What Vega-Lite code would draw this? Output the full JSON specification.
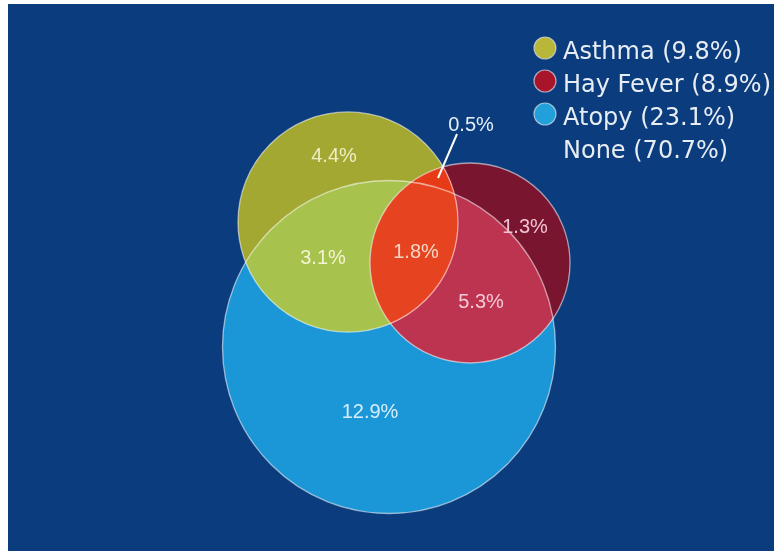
{
  "$schema": "https://vega.github.io/schema/vega-lite/v6.json",
  "width": 774,
  "height": 551,
  "autosize": {"type": "fit", "contains": "padding"},
  "padding": {"left": 8, "top": 4, "right": 0, "bottom": 0},
  "background": "#ffffff",
  "config": {"view": {"fill": "#0b3c7d", "stroke": null}},
  "datasets": {
    "circles": [
      {"name": "Atopy", "cx": 389, "cy": 347, "r": 166.5},
      {"name": "Asthma", "cx": 348, "cy": 222, "r": 110},
      {"name": "Hay Fever", "cx": 470, "cy": 263, "r": 100}
    ],
    "labels": [
      {"text": "4.4%", "x": 334, "y": 156, "region": "asthma"},
      {"text": "3.1%", "x": 323, "y": 258, "region": "asthma_atopy"},
      {"text": "1.8%", "x": 416, "y": 252, "region": "all"},
      {"text": "1.3%", "x": 525, "y": 227, "region": "hay"},
      {"text": "5.3%", "x": 481, "y": 302, "region": "hay_atopy"},
      {"text": "12.9%", "x": 370, "y": 412, "region": "atopy"},
      {"text": "0.5%", "x": 471, "y": 125, "region": "asthma_hay"}
    ],
    "leader": [{"x": 457, "y": 134, "x2": 438, "y2": 178}],
    "legend": [
      {"name": "Asthma", "label": "Asthma (9.8%)", "px": 545, "py": 48, "tx": 563, "ty": 59, "symbol": true},
      {"name": "Hay Fever", "label": "Hay Fever (8.9%)", "px": 545, "py": 81, "tx": 563, "ty": 92, "symbol": true},
      {"name": "Atopy", "label": "Atopy (23.1%)", "px": 545, "py": 114, "tx": 563, "ty": 125, "symbol": true},
      {"name": "None", "label": "None (70.7%)", "px": 545, "py": 147, "tx": 563, "ty": 158, "symbol": false}
    ]
  },
  "layer": [
    {
      "data": {"name": "circles"},
      "transform": [{"filter": "datum.name === 'Atopy'"}],
      "mark": {"type": "point", "shape": "circle", "filled": true, "color": "#1b96d6", "opacity": 1, "strokeWidth": 0},
      "encoding": {
        "x": {"field": "cx", "type": "quantitative", "scale": {"domain": [8, 774], "nice": false, "zero": false}, "axis": null},
        "y": {"field": "cy", "type": "quantitative", "scale": {"domain": [4, 551], "nice": false, "zero": false, "reverse": true}, "axis": null},
        "size": {"field": "r", "type": "quantitative", "scale": {"type": "pow", "exponent": 2, "domain": [0, 200], "range": [0, 160000], "nice": false}, "legend": null}
      }
    },
    {
      "data": {"name": "circles"},
      "transform": [{"filter": "datum.name === 'Asthma'"}],
      "mark": {"type": "point", "shape": "circle", "filled": true, "color": "#fed612", "opacity": 0.7, "strokeWidth": 0},
      "encoding": {
        "x": {"field": "cx", "type": "quantitative"},
        "y": {"field": "cy", "type": "quantitative"},
        "size": {"field": "r", "type": "quantitative", "legend": null}
      }
    },
    {
      "data": {"name": "circles"},
      "transform": [{"filter": "datum.name === 'Hay Fever'"}],
      "mark": {"type": "point", "shape": "circle", "filled": true, "color": "#0c0007", "opacity": 0.65, "strokeWidth": 0},
      "encoding": {
        "x": {"field": "cx", "type": "quantitative"},
        "y": {"field": "cy", "type": "quantitative"},
        "size": {"field": "r", "type": "quantitative", "legend": null}
      }
    },
    {
      "data": {"name": "circles"},
      "transform": [{"filter": "datum.name === 'Hay Fever'"}],
      "mark": {"type": "point", "shape": "circle", "filled": true, "color": "#e80000", "opacity": 1, "strokeWidth": 0, "blend": "color-dodge"},
      "encoding": {
        "x": {"field": "cx", "type": "quantitative"},
        "y": {"field": "cy", "type": "quantitative"},
        "size": {"field": "r", "type": "quantitative", "legend": null}
      }
    },
    {
      "data": {"name": "circles"},
      "transform": [{"filter": "datum.name === 'Asthma'"}],
      "mark": {"type": "point", "shape": "circle", "filled": true, "color": "#e6ffff", "opacity": 1, "strokeWidth": 0, "blend": "multiply"},
      "encoding": {
        "x": {"field": "cx", "type": "quantitative"},
        "y": {"field": "cy", "type": "quantitative"},
        "size": {"field": "r", "type": "quantitative", "legend": null}
      }
    },
    {
      "data": {"name": "circles"},
      "mark": {"type": "point", "shape": "circle", "filled": false, "color": "#ffffff", "opacity": 0.55, "strokeWidth": 1.3},
      "encoding": {
        "x": {"field": "cx", "type": "quantitative"},
        "y": {"field": "cy", "type": "quantitative"},
        "size": {"field": "r", "type": "quantitative", "legend": null}
      }
    },
    {
      "data": {"name": "leader"},
      "mark": {"type": "rule", "color": "#ffffff", "strokeWidth": 2},
      "encoding": {
        "x": {"field": "x", "type": "quantitative"},
        "y": {"field": "y", "type": "quantitative"},
        "x2": {"field": "x2"},
        "y2": {"field": "y2"}
      }
    },
    {
      "data": {"name": "labels"},
      "mark": {"type": "text", "font": "Liberation Sans", "fontSize": 20, "align": "center", "baseline": "middle"},
      "encoding": {
        "x": {"field": "x", "type": "quantitative"},
        "y": {"field": "y", "type": "quantitative"},
        "text": {"field": "text"},
        "color": {
          "field": "region", "type": "nominal", "legend": null,
          "scale": {
            "domain": ["asthma", "asthma_atopy", "all", "hay", "hay_atopy", "atopy", "asthma_hay"],
            "range": ["#eeeec4", "#f4f4d4", "#f8d6c4", "#f2c4d2", "#f6c8d8", "#d6eefc", "#e6eef8"]
          }
        }
      }
    },
    {
      "data": {"name": "legend"},
      "transform": [{"filter": "datum.symbol"}],
      "mark": {"type": "point", "shape": "circle", "filled": true, "size": 484, "opacity": 1, "stroke": "#d8dde6", "strokeWidth": 1.2, "strokeOpacity": 0.7},
      "encoding": {
        "x": {"field": "px", "type": "quantitative"},
        "y": {"field": "py", "type": "quantitative"},
        "color": {
          "field": "name", "type": "nominal", "legend": null,
          "scale": {"domain": ["Asthma", "Hay Fever", "Atopy"], "range": ["#b9b73a", "#a8152b", "#22a0dc"]}
        }
      }
    },
    {
      "data": {"name": "legend"},
      "mark": {"type": "text", "font": "DejaVu Sans", "fontSize": 24, "align": "left", "baseline": "alphabetic", "color": "#e8edf4", "clip": true},
      "encoding": {
        "x": {"field": "tx", "type": "quantitative"},
        "y": {"field": "ty", "type": "quantitative"},
        "text": {"field": "label"}
      }
    }
  ],
  "resolve": {"scale": {"color": "independent"}}
}
